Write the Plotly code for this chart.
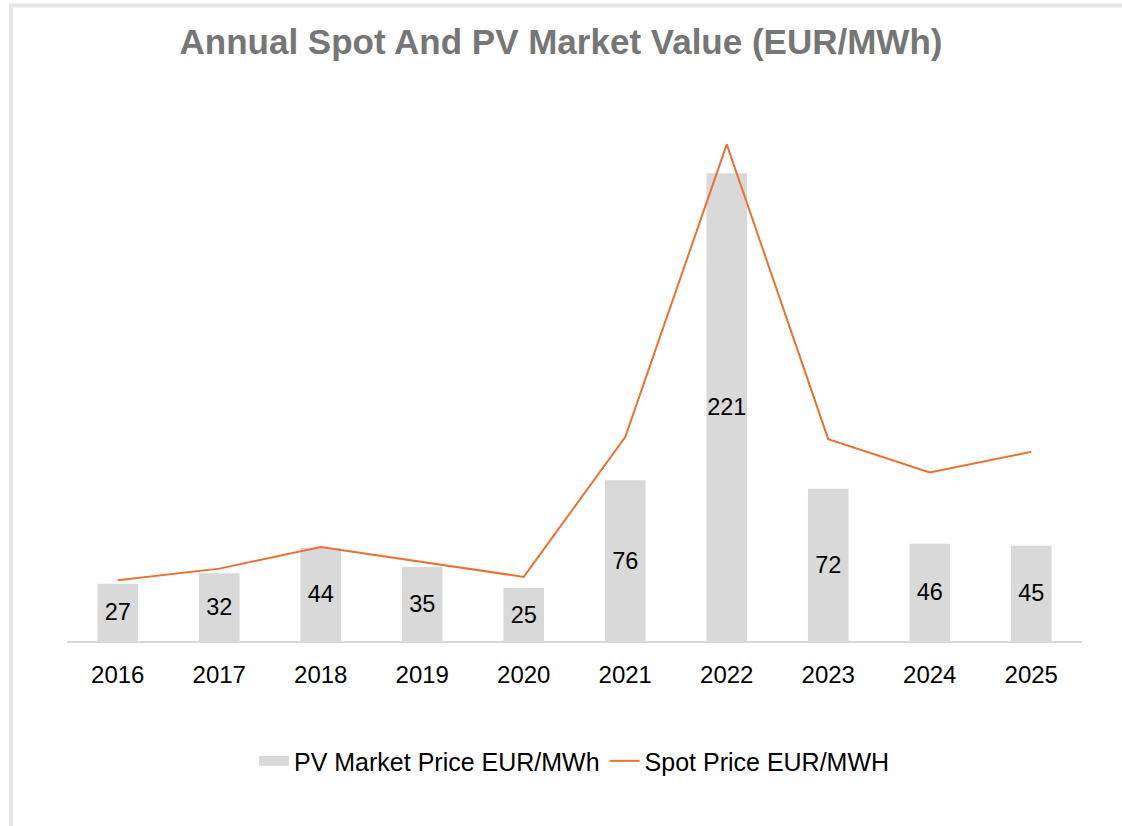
import plotly.graph_objects as go

years = ["2016", "2017", "2018", "2019", "2020", "2021", "2022", "2023", "2024", "2025"]
pv_market_price = [27, 32, 44, 35, 25, 76, 221, 72, 46, 45]
spot_price = [28.7, 34.2, 44.4, 37.4, 30.3, 96.4, 234.7, 95.4, 79.6, 89.4]

FONT = "Liberation Sans, Arial, sans-serif"

fig = go.Figure()
fig.add_trace(go.Bar(
    x=years, y=pv_market_price, name="PV Market Price EUR/MWh",
    marker=dict(color="#D9D9D9", line=dict(width=0)),
    text=[str(v) for v in pv_market_price], textposition="inside",
    insidetextanchor="middle", textangle=0,
    textfont=dict(family=FONT, size=23.5, color="#000000"),
    showlegend=False, legendgroup="pv",
))
# legend entry for the bars (wide grey swatch)
fig.add_trace(go.Scatter(
    x=[None], y=[None], name="PV Market Price EUR/MWh", mode="lines",
    line=dict(color="#D9D9D9", width=14), legendgroup="pv", showlegend=True,
))
fig.add_trace(go.Scatter(
    x=years, y=spot_price, name="Spot Price EUR/MWH", mode="lines",
    line=dict(color="#E97132", width=2),
))

fig.update_layout(
    width=1122, height=826,
    paper_bgcolor="white", plot_bgcolor="white",
    margin=dict(l=67, r=40, t=112, b=185),
    title=dict(text="<b>Annual Spot And PV Market Value (EUR/MWh)</b>",
               x=0.5, xref="container", xanchor="center", y=0.949, yref="container", yanchor="middle",
               font=dict(family=FONT, size=35, color="#767676")),
    bargap=0.6,
    uniformtext=dict(minsize=23.5, mode="show"),
    showlegend=True,
    legend=dict(orientation="h", x=0.5, xanchor="center", y=-0.227, yanchor="middle",
                font=dict(family=FONT, size=25, color="#000000"),
                traceorder="normal"),
    xaxis=dict(showline=True, linecolor="#D9D9D9", linewidth=2, ticks="", showgrid=False,
               ticklabelstandoff=11,
               tickfont=dict(family=FONT, size=24, color="#000000")),
    yaxis=dict(range=[0, 250], visible=False, showgrid=False, zeroline=False),
    shapes=[dict(type="rect", xref="paper", yref="paper", x0=-0.0552, x1=1.2, y0=-0.5, y1=1.2013,
                 line=dict(color="#E6E6E6", width=4), fillcolor="rgba(0,0,0,0)", layer="above")],
)

fig.write_html("out.html", config={"displayModeBar": False},
               post_script="document.body.style.margin='0';")
